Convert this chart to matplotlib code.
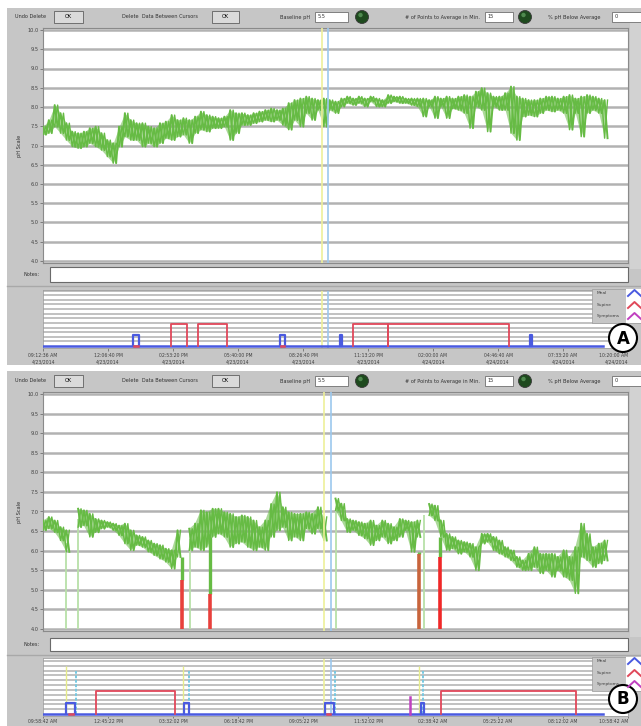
import matplotlib
matplotlib.use('Agg')
from matplotlib import pyplot as plt
from matplotlib.patches import Rectangle, Circle
import numpy as np

nan = np.nan

# pH trace, one sample every 15 min (hours from start of recording)
# hi / lo = upper and lower edge of the noisy band
t = np.arange(0, 24.01, 0.25)

a_hi = [7.49, 7.66, 8.05, 7.84, 7.58, 7.36, 7.32, 7.36, 7.45, 7.49, 7.32, 7.14,
        7.06, 7.49, 7.84, 7.66, 7.58, 7.58, 7.49, 7.45, 7.58, 7.62, 7.79, 7.66,
        7.71, 7.66, 7.75, 7.88, 7.79, 7.75, 7.71, 7.75, 7.92, 7.84, 7.84, 7.79,
        7.84, 7.88, 7.92, 7.96, 7.92, 7.96, 8.10, 8.18, 8.22, 8.27, 8.22, 8.18,
        8.22, 8.18, 8.14, 8.22, 8.27, 8.22, 8.27, 8.22, 8.27, 8.22, 8.18, 8.31,
        8.27, 8.27, 8.22, 8.22, 8.22, 8.22, 8.18, 8.27, 8.22, 8.27, 8.22, 8.27,
        8.31, 8.27, 8.40, 8.49, 8.36, 8.27, 8.27, 8.36, 8.53, 8.27, 8.22, 8.18,
        8.18, 8.22, 8.27, 8.27, 8.22, 8.27, 8.31, 8.22, 8.27, 8.31, 8.27, 8.22,
        8.18]
a_lo = [7.28, 7.32, 7.49, 7.32, 7.14, 6.97, 6.93, 6.97, 7.06, 6.97, 6.88, 6.71,
        6.54, 6.97, 7.23, 7.14, 7.14, 6.97, 7.06, 6.97, 7.06, 7.19, 7.14, 7.23,
        7.28, 7.06, 7.32, 7.41, 7.36, 7.45, 7.45, 7.49, 7.14, 7.32, 7.53, 7.53,
        7.58, 7.62, 7.66, 7.62, 7.66, 7.53, 7.41, 7.66, 7.49, 7.84, 7.66, 7.92,
        7.49, 7.92, 7.84, 8.01, 8.10, 8.05, 8.10, 8.01, 8.14, 8.01, 8.01, 8.10,
        8.14, 8.10, 8.10, 8.05, 8.01, 7.75, 8.01, 7.71, 8.01, 7.71, 7.96, 7.92,
        7.84, 7.45, 8.01, 7.92, 7.36, 8.01, 7.92, 7.92, 7.32, 7.14, 7.75, 7.79,
        7.75, 7.84, 7.92, 7.88, 7.92, 7.84, 7.41, 7.84, 7.23, 7.84, 7.92, 7.84,
        7.19]

b_hi = [6.77, 6.86, 6.77, 6.60, 6.52, nan, 7.07, 7.03, 6.94, 6.81, 6.77, 6.73,
        6.69, 6.64, 6.69, 6.52, 6.39, 6.35, 6.26, 6.18, 6.14, 6.05, 6.01, 6.52,
        nan, 6.56, 6.69, 7.03, 6.98, 7.07, 7.07, 6.98, 6.94, 6.86, 6.90, 6.86,
        6.77, 6.60, 6.77, 7.19, 7.49, 7.11, 6.98, 6.94, 6.94, 6.98, 6.94, 7.11,
        6.86, nan, 7.33, 7.20, 6.81, 6.77, 6.73, 6.69, 6.77, 6.64, 6.77, 6.69,
        6.60, 6.81, 6.77, 6.73, 6.77, nan, 7.19, 7.15, 6.77, 6.43, 6.35, 6.26,
        6.22, 6.18, 6.09, 6.43, 6.43, 6.35, 6.26, 6.09, 6.01, 5.84, 5.75, 5.92,
        6.09, 5.92, 5.92, 5.92, 5.84, 6.01, 5.84, 6.09, 6.69, 6.43, 6.09, 6.18,
        6.26]
b_lo = [6.52, 6.56, 6.47, 6.26, 5.97, nan, 6.60, 6.64, 6.35, 6.47, 6.56, 6.60,
        6.52, 6.39, 6.18, 6.01, 6.14, 6.09, 5.97, 5.88, 5.79, 5.71, 5.54, 5.84,
        nan, 6.01, 6.09, 6.01, 6.09, 6.35, 6.43, 6.35, 6.09, 6.18, 6.22, 6.09,
        6.01, 6.09, 6.01, 6.35, 6.52, 6.60, 6.26, 6.35, 6.26, 6.56, 6.43, 6.56,
        6.26, nan, 7.03, 6.77, 6.47, 6.52, 6.39, 6.31, 6.14, 6.26, 6.35, 6.18,
        6.26, 6.35, 6.52, 5.97, 6.35, nan, 6.90, 6.77, 6.35, 6.01, 6.05, 5.92,
        5.97, 5.84, 5.50, 6.18, 6.22, 6.01, 5.92, 5.84, 5.75, 5.58, 5.50, 5.50,
        5.58, 5.42, 5.50, 5.33, 5.50, 5.33, 5.25, 4.91, 5.84, 5.75, 5.58, 5.67,
        5.75]

# pale green lines where data was removed (time, top pH)
a_gap_t = [0.0]
a_gap_top = [7.3]
b_gap_t = [0.0, 0.98, 1.49, 6.27, 12.54, 16.30]
b_gap_top = [6.6, 6.2, 6.8, 6.3, 7.1, 6.9]

# drops to pH 4.0: green from top down to red_top, red from red_top to 4.0
b_drop_t = [5.92, 7.15, 16.05, 16.98]
b_drop_top = [5.84, 6.35, 5.97, 6.35]
b_drop_red = [5.25, 4.90, 5.92, 5.84]
b_drop_col = ['#e8403c', '#e8403c', '#c8643c', '#f02828']

# cursors (yellow, blue)
a_cursors = [11.92, 12.18]
b_cursors = [11.99, 12.29]

# event channel: (start, end) in hours
a_meal = [(3.85, 4.10), (10.13, 10.34), (12.69, 12.78), (20.81, 20.90)]
a_supine = [(5.47, 6.15), (6.62, 7.86), (13.25, 14.74), (14.74, 19.92)]
a_marks = [3.97, 10.24]
b_meal = [(0.98, 1.37), (6.03, 6.24), (12.05, 12.44), (16.16, 16.28)]
b_supine = [(2.27, 5.64), (17.01, 22.78)]
b_symptom = [15.70]
b_marks = [1.19, 12.20]
b_yellow = [0.98, 5.97, 16.08]
b_cyan = [1.41, 6.23, 12.46, 16.25]

a_times = ["09:12:36 AM", "12:06:40 PM", "02:53:20 PM", "05:40:00 PM", "08:26:40 PM",
           "11:13:20 PM", "02:00:00 AM", "04:46:40 AM", "07:33:20 AM", "10:20:00 AM"]
a_dates = ["4/23/2014"] * 6 + ["4/24/2014"] * 4
b_times = ["09:58:42 AM", "12:45:22 PM", "03:32:02 PM", "06:18:42 PM", "09:05:22 PM",
           "11:52:02 PM", "02:38:42 AM", "05:25:22 AM", "08:12:02 AM", "10:58:42 AM"]
fields = ["5.5", "15", "0"]

GREEN = '#66bb44'
PALE = '#b8e0a8'
BLUE = '#4a5ae0'
RED = '#e0485a'
MAGENTA = '#c040c0'
GREY = '#c6c6c6'
FS = 3.6

W, H = 641, 726
fig = plt.figure(figsize=(W / 100, H / 100), dpi=100)
fig.patch.set_facecolor('white')


def rect(x0, y0, x1, y1):
    return [x0 / W, 1 - y1 / H, (x1 - x0) / W, (y1 - y0) / H]


bg = fig.add_axes([0, 0, 1, 1])
bg.set_xlim(0, W)
bg.set_ylim(H, 0)
bg.axis('off')


def toolbar(yc):
    kw = dict(fontsize=FS, va='center', color='#303030')
    bg.text(15, yc, "Undo Delete", **kw)
    for x, w in [(54, 29), (212, 27)]:
        bg.add_patch(Rectangle((x, yc - 6), w, 12, fc='#dadada', ec='#606060', lw=0.6))
        bg.text(x + w / 2, yc, "OK", ha='center', fontsize=FS, va='center')
    bg.text(122, yc, "Delete  Data Between Cursors", **kw)
    bg.text(280, yc, "Baseline pH", **kw)
    bg.text(405, yc, "# of Points to Average in Min.", **kw)
    bg.text(548, yc, "% pH Below Average", **kw)
    for (x, w), v in zip([(315, 33), (485, 28), (612, 29)], fields):
        bg.add_patch(Rectangle((x, yc - 5), w, 10, fc='white', ec='#707070', lw=0.6))
        bg.text(x + 3, yc, v, **kw)
    for x in [362, 525]:
        bg.add_patch(Circle((x, yc), 6.5, fc='#1e4a1e', ec='#3a3a3a', lw=0.6))
        bg.add_patch(Circle((x - 1.5, yc - 2), 2.2, fc='#4f8a4f', ec='none'))


def band(ax, hi, lo):
    ax.fill_between(t, lo, hi, color=GREEN, alpha=0.55, lw=0, zorder=3)
    tt = np.column_stack([t, t + 0.125]).ravel()
    ax.plot(tt, np.column_stack([hi, lo]).ravel(), color=GREEN, lw=1.4, zorder=4)
    ax.plot(tt, np.column_stack([lo, hi]).ravel(), color=GREEN, lw=1.0, zorder=4)


def panel(L, hi, lo, gap_t, gap_top, cursors, meal, supine, marks, labels):
    top, bot = L['box']
    bg.add_patch(Rectangle((7, top), W - 7, bot - top, fc=GREY, ec='none'))
    bg.add_patch(Rectangle((630, L['main'][1] - 8), 11, L['main'][0] - L['main'][1] + 16,
                           fc='#d2d2d2', ec='none'))
    toolbar(L['bar'])
    y10, y4 = L['main'][1], L['main'][0]
    bg.text(19, (y10 + y4) / 2, "pH Scale", rotation=90, fontsize=FS,
            ha='center', va='center', color='#303030')
    # notes
    n0, n1 = L['notes']
    bg.text(23, (n0 + n1) / 2, "Notes:", fontsize=FS, va='center', color='#303030')
    bg.add_patch(Rectangle((50, n0), 578, n1 - n0, fc='white', ec='#6a6a6a', lw=0.8))
    bg.plot([7, 641], [L['sep'], L['sep']], color='#a8a8a8', lw=1.0)

    # main pH chart
    u = (y4 - y10) / 6.0
    ax = fig.add_axes(rect(43, y10 - 2, 628, y4 + 2))
    ax.set_xlim(0, 25)
    ax.set_ylim(4.0 - 2 / u, 10.0 + 2 / u)
    for v in np.arange(4.0, 10.01, 0.5):
        ax.axhline(v, color='#b2b2b2', lw=1.8, zorder=1)
    ax.set_yticks(np.arange(4.0, 10.01, 0.5))
    ax.set_yticklabels([f"{v:.1f}" for v in np.arange(4.0, 10.01, 0.5)],
                       fontsize=FS, color='#404040')
    ax.set_xticks([])
    ax.tick_params(axis='y', length=2, width=0.5, pad=1, color='#606060')
    for s in ax.spines.values():
        s.set_color('#8a8a8a')
        s.set_linewidth(0.8)
    ax.vlines(gap_t, 4.0, gap_top, color=PALE, lw=1.3, zorder=2)
    band(ax, hi, lo)
    for c, col in zip(cursors, ['#eef09a', '#9cc8ee']):
        ax.axvline(c, color=col, lw=1.2, zorder=5)

    # event channel
    e0, e1 = L['lower']
    base = L['base']
    eu = L['unit']
    ex = fig.add_axes(rect(43, e0, 628, e1))
    ex.set_xlim(0, 25)
    ex.set_ylim(-(e1 - base) / eu, (base - e0) / eu)
    for v in np.arange(0.42, (base - e0) / eu, 0.42):
        ex.axhline(v, color='#b6b6b6', lw=1.2, zorder=1)
    ex.set_yticks([])
    ticks = np.linspace(0, 25, 10)
    ex.set_xticks(ticks)
    tl = ex.set_xticklabels(labels, fontsize=3.3, color='#404040', linespacing=1.4)
    tl[-1].set_horizontalalignment('right')
    ex.tick_params(axis='x', length=L['tick'], width=0.5, pad=L['pad'], color='#606060')
    for s in ex.spines.values():
        s.set_color('#a0a0a0')
        s.set_linewidth(0.6)
    ex.plot([0, 23.93], [0, 0], color=BLUE, lw=1.8, zorder=3)
    for s_, e_ in supine:
        ex.plot([s_, s_, e_, e_], [0, 2, 2, 0], color=RED, lw=1.3, zorder=3)
    for s_, e_ in meal:
        ex.plot([s_, s_, e_, e_], [0, 1, 1, 0], color=BLUE, lw=1.6, zorder=4)
    for m in marks:
        ex.plot([m - 0.08, m + 0.08], [0, 0], color=RED, lw=1.8, zorder=5)
    for c, col in zip(cursors, ['#eef09a', '#9cc8ee']):
        ex.axvline(c, color=col, lw=1.2, zorder=2)
    return ax, ex


A = dict(box=(8, 365), bar=17, main=(261, 30), notes=(267, 282), sep=286,
         lower=(290, 348), base=346, unit=11.0, legend=(289, [293, 305, 316]),
         circle=338, tick=2, pad=1.5)
B = dict(box=(371, 726), bar=381, main=(629, 394), notes=(638, 651), sep=655,
         lower=(658, 716), base=714, unit=11.5, legend=(657, [661, 673, 684]),
         circle=699, tick=1.5, pad=0.8)

panel(A, a_hi, a_lo, a_gap_t, a_gap_top, a_cursors, a_meal, a_supine, a_marks,
      [f"{a}\n{b}" for a, b in zip(a_times, a_dates)])
axb, exb = panel(B, b_hi, b_lo, b_gap_t, b_gap_top, b_cursors, b_meal, b_supine,
                 b_marks, b_times)

# extra marks of panel B
for x, top, red, col in zip(b_drop_t, b_drop_top, b_drop_red, b_drop_col):
    axb.vlines(x, red, top, color=GREEN, lw=2.4, zorder=4)
    axb.vlines(x, 4.0, red, color=col, lw=2.6, zorder=4)
exb.vlines(b_yellow, 0, 4.2, color='#e6ec8a', lw=1.0, zorder=2)
exb.vlines(b_cyan, 0, 3.7, color='#78c8e0', lw=1.4, linestyles=(0, (1.5, 0.8)), zorder=2)
for s in b_symptom:
    exb.plot([s, s], [0, 1.5], color=MAGENTA, lw=1.8, zorder=4)

# legends and panel letters on top
fg = fig.add_axes([0, 0, 1, 1])
fg.set_xlim(0, W)
fg.set_ylim(H, 0)
fg.axis('off')
for L, letter in [(A, 'A'), (B, 'B')]:
    ly, rows = L['legend']
    fg.add_patch(Rectangle((592, ly), 49, 34, fc=GREY, ec='#9a9a9a', lw=0.5))
    fg.add_patch(Rectangle((626, ly), 15, 34, fc='white', ec='none'))
    for y, name, col in zip(rows, ["Meal", "Supine", "Symptoms"], [BLUE, RED, MAGENTA]):
        fg.text(597, y, name, fontsize=3.2, va='center', color='#404040')
        fg.plot([628, 634.5, 641], [y + 3, y - 3, y + 3], color=col, lw=1.4)
    fg.add_patch(Circle((623, L['circle']), 14, fc='white', ec='black', lw=1.5))
    fg.text(623, L['circle'] + 0.5, letter, fontsize=12, fontweight='bold',
            ha='center', va='center')

fig.savefig('out.png', dpi=100)
